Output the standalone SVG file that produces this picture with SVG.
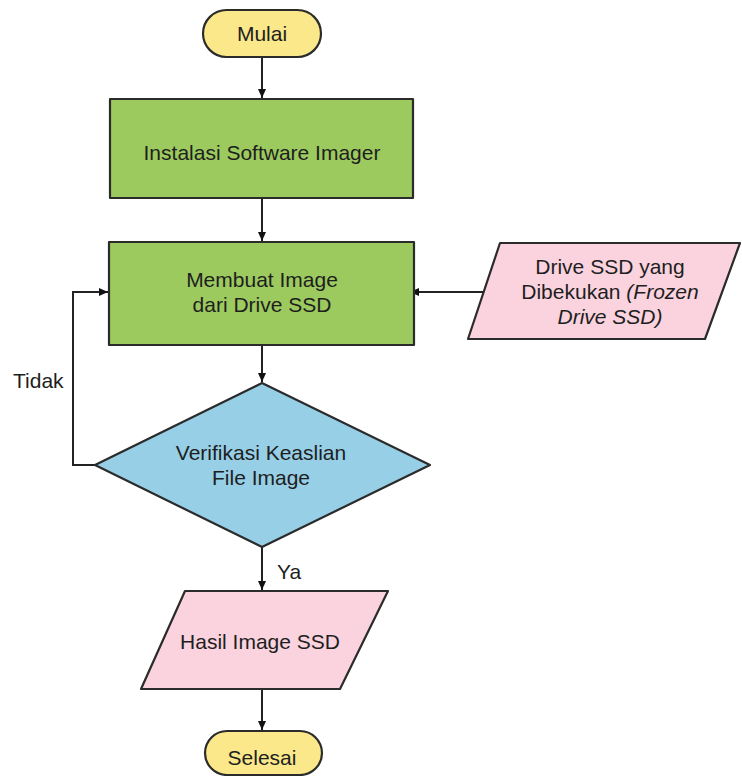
<svg xmlns="http://www.w3.org/2000/svg" width="742" height="776" viewBox="0 0 742 776">
<defs>
<marker id="ah" markerWidth="10" markerHeight="10" refX="9" refY="5" orient="auto" markerUnits="userSpaceOnUse">
<path d="M0,1 L9,5 L0,9 Z" fill="#111"/>
</marker>
<style>
.shape{stroke:#2b2b2b;stroke-width:2.2;stroke-linejoin:round}
.term{fill:#FAE88A}
.proc{fill:#9CCA5E}
.io{fill:#FAD3DE}
.dec{fill:#96CFE6}
.t{font-family:"Liberation Sans",Arial,sans-serif;font-size:21px;fill:#1e1e1e;text-anchor:middle}
.ts{text-anchor:start}
.conn{fill:none;stroke:#222;stroke-width:2;marker-end:url(#ah)}
</style>
</defs>
<rect width="742" height="776" fill="#ffffff"/>
<g id="connectors">
<line class="conn" x1="262" y1="57" x2="262" y2="98"/>
<line class="conn" x1="262" y1="198" x2="262" y2="241"/>
<line class="conn" x1="262" y1="345" x2="262" y2="382"/>
<line class="conn" x1="262" y1="547" x2="262" y2="590"/>
<line class="conn" x1="262" y1="690" x2="262" y2="730"/>
<line class="conn" x1="485" y1="292" x2="410" y2="292"/>
<polyline class="conn" points="95,465 73,465 73,292 108,292"/>
<text class="t ts" x="13" y="388">Tidak</text>
<text class="t ts" x="277" y="579">Ya</text>
</g>
<g id="mulai">
<rect class="shape term" x="203" y="10" width="118" height="47" rx="23.5"/>
<text class="t" x="262" y="41">Mulai</text>
</g>
<g id="instalasi">
<rect class="shape proc" x="110" y="99" width="303" height="99"/>
<text class="t" x="262" y="160">Instalasi Software Imager</text>
</g>
<g id="membuat">
<rect class="shape proc" x="109" y="242" width="305" height="103"/>
<text class="t" x="262" y="287">Membuat Image</text>
<text class="t" x="262" y="312">dari Drive SSD</text>
</g>
<g id="drive">
<polygon class="shape io" points="500,243 740,243 705,339 468,339"/>
<text class="t" x="610" y="274">Drive SSD yang</text>
<text class="t" x="610" y="299">Dibekukan <tspan font-style="italic">(Frozen</tspan></text>
<text class="t" x="610" y="324" font-style="italic">Drive SSD)</text>
</g>
<g id="verifikasi">
<polygon class="shape dec" points="262,383 430,465 262,547 95,465"/>
<text class="t" x="261" y="460">Verifikasi Keaslian</text>
<text class="t" x="261" y="485">File Image</text>
</g>
<g id="hasil">
<polygon class="shape io" points="185,591 388,591 340,689 141,689"/>
<text class="t" x="260" y="649">Hasil Image SSD</text>
</g>
<g id="selesai">
<rect class="shape term" x="205" y="731" width="117" height="44" rx="22"/>
<text class="t" x="262" y="765">Selesai</text>
</g>
</svg>
